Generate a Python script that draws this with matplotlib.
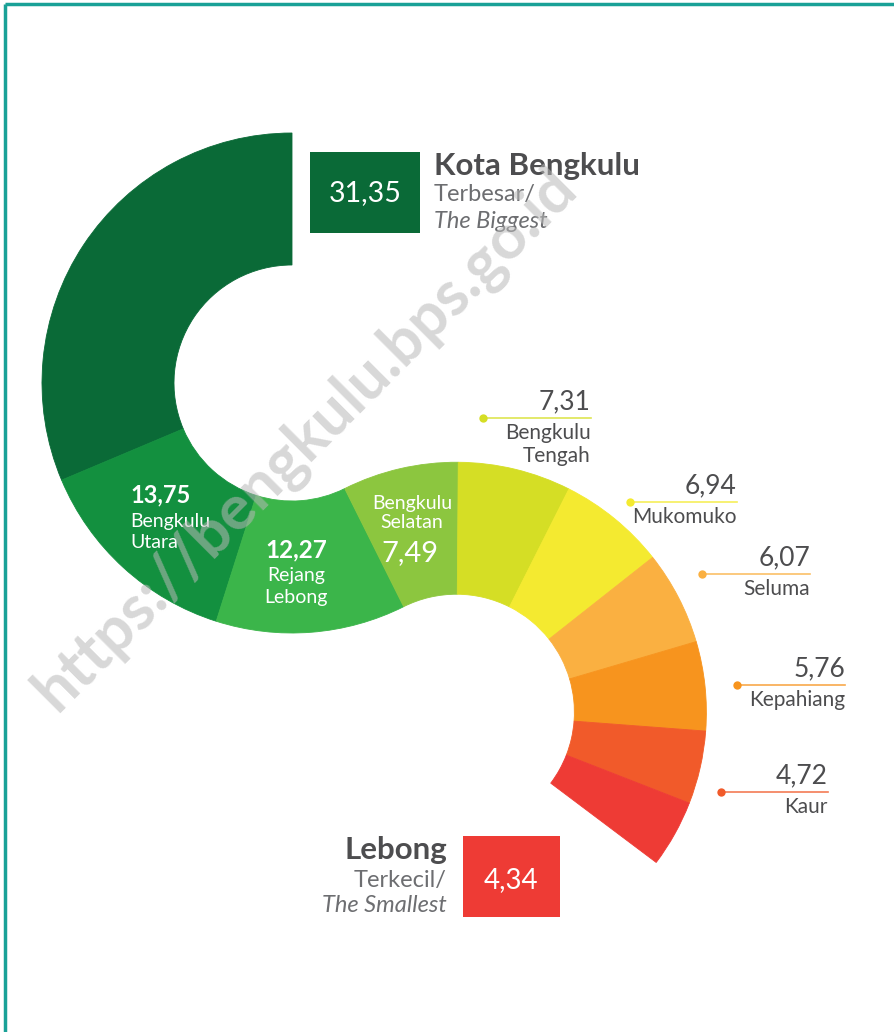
import numpy as np
import matplotlib.pyplot as plt
from matplotlib.patches import Wedge, Rectangle

plt.rcParams['font.family'] = ['Lato', 'DejaVu Sans']

regions = ["Kota Bengkulu", "Bengkulu Utara", "Rejang Lebong", "Bengkulu Selatan",
           "Bengkulu Tengah", "Mukomuko", "Seluma", "Kepahiang", "Kaur", "Lebong"]
shares = [31.35, 13.75, 12.27, 7.49, 7.31, 6.94, 6.07, 5.76, 4.72, 4.34]
colors = ["#0a6a37", "#13903f", "#3bb54a", "#8cc63f", "#d5de25",
          "#f4ea30", "#fab041", "#f7941e", "#f15a2a", "#ee3b35"]

W, H = 895, 1032
fig = plt.figure(figsize=(W / 100, H / 100), dpi=100)
ax = fig.add_axes([0, 0, 1, 1])
ax.set_xlim(0, W)
ax.set_ylim(0, H)
ax.axis('off')


def Y(y):
    # picture rows -> axis units
    return H - y


def fmt(v):
    return f"{v:.2f}".replace('.', ',')


dark = "#4d4d4f"
grey = "#6d6e71"
R_out, R_in = 250, 118
c1 = np.array([292.0, Y(383)])
deg = [v * 3.6 for v in shares]

# upper half of the S: counter-clockwise from the top
a = 90
for i in range(3):
    ax.add_patch(Wedge(c1, R_out, a, a + deg[i], width=R_out - R_in,
                       fc=colors[i], ec=colors[i], lw=0.6))
    a += deg[i]

# second circle sits so the band runs on without a break
t = np.radians(a)
c2 = c1 + (R_out + R_in) * np.array([np.cos(t), np.sin(t)])

# lower half: clockwise, continuing from the joint
b = a - 180
for i in range(3, len(shares)):
    ax.add_patch(Wedge(c2, R_out, b - deg[i], b, width=R_out - R_in,
                       fc=colors[i], ec=colors[i], lw=0.6))
    b -= deg[i]

# frame
ax.plot([5, W], [Y(4), Y(4)], color="#1aa197", lw=2.5, solid_capstyle='butt')
ax.plot([5, 5], [Y(4), 0], color="#1aa197", lw=2.5, solid_capstyle='butt')

# biggest
ax.add_patch(Rectangle((310, Y(233)), 110, 81, color=colors[0], lw=0))
ax.text(365, Y(193), fmt(shares[0]), color="white", fontsize=20.5,
        ha='center', va='center')
ax.text(434, Y(166), regions[0], color=dark, fontsize=22.5, fontweight='bold',
        ha='left', va='center')
ax.text(434, Y(195), "Terbesar/", color=grey, fontsize=17,
        ha='left', va='center')
ax.text(434, Y(221), "The Biggest", color=grey, fontsize=17,
        style='italic', ha='left', va='center')

# smallest
ax.add_patch(Rectangle((463, Y(917)), 97, 81, color=colors[9], lw=0))
ax.text(511, Y(880), fmt(shares[9]), color="white", fontsize=20,
        ha='center', va='center')
ax.text(447, Y(850), regions[9], color=dark, fontsize=22.5, fontweight='bold',
        ha='right', va='center')
ax.text(447, Y(880), "Terkecil/", color=grey, fontsize=17,
        ha='right', va='center')
ax.text(447, Y(906), "The Smallest", color=grey, fontsize=17,
        style='italic', ha='right', va='center')

# labels inside the green part
ax.text(130, Y(495), fmt(shares[1]), color="white", fontsize=17,
        fontweight='bold', ha='left', va='center')
ax.text(130, Y(521), "Bengkulu", color="white", fontsize=14, ha='left', va='center')
ax.text(130, Y(543), "Utara", color="white", fontsize=14, ha='left', va='center')

ax.text(296, Y(550), fmt(shares[2]), color="white", fontsize=17.5,
        fontweight='bold', ha='center', va='center')
ax.text(296, Y(575), "Rejang", color="white", fontsize=14, ha='center', va='center')
ax.text(296, Y(598), "Lebong", color="white", fontsize=14, ha='center', va='center')

ax.text(412, Y(503), "Bengkulu", color="white", fontsize=14, ha='center', va='center')
ax.text(412, Y(523), "Selatan", color="white", fontsize=14, ha='center', va='center')
ax.text(410, Y(553), fmt(shares[3]), color="white", fontsize=21,
        ha='center', va='center')

# callouts on the right
callouts = [
    # idx, dot x, line y, line end x, name lines
    (4, 483, 418, 591, ["Bengkulu", "Tengah"]),
    (5, 630, 502, 737, ["Mukomuko"]),
    (6, 702, 574, 810, ["Seluma"]),
    (7, 737, 685, 845, ["Kepahiang"]),
    (8, 721, 792, 828, ["Kaur"]),
]
for idx, x0, yl, x1, names in callouts:
    col = colors[idx]
    ax.plot([x0, x1], [Y(yl), Y(yl)], color=col, lw=1.2, alpha=0.8)
    ax.plot([x0], [Y(yl)], 'o', color=col, ms=6, mec='none')
    ax.text(x1, Y(yl - 16), fmt(shares[idx]), color=dark, fontsize=19,
            ha='right', va='center')
    for k, nm in enumerate(names):
        ax.text(x1, Y(yl + 15 + 23 * k), nm, color=dark, fontsize=15,
                ha='right', va='center')

# watermark
ax.text(305, Y(440), "https://bengkulu.bps.go.id", color="#b8b8b8", alpha=0.55,
        fontsize=45, fontweight='bold', rotation=45, ha='center', va='center')

fig.savefig("out.png", dpi=100, facecolor="white")
